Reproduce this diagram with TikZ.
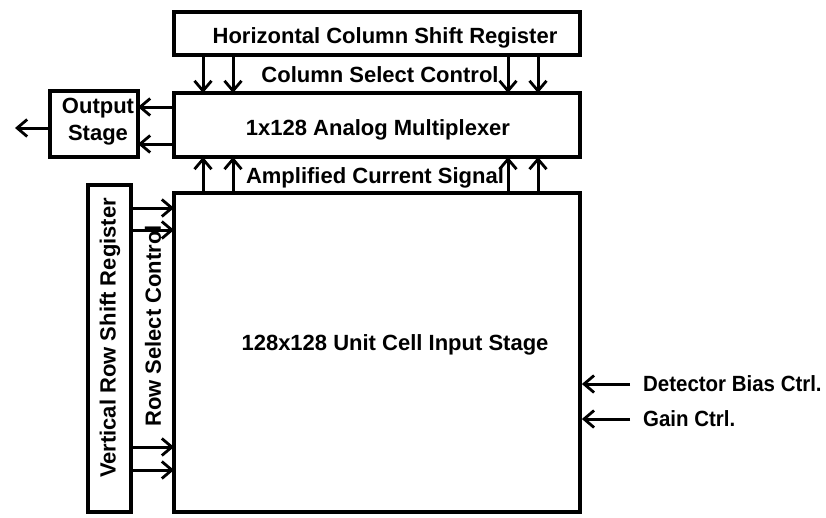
\documentclass[tikz,border=0pt]{standalone}
\usepackage{fontspec}
\setmainfont{Liberation Sans}
\usetikzlibrary{arrows.meta}
\begin{document}
\begin{tikzpicture}[x=1pt,y=-1pt,
  blk/.style={draw,line width=3.8pt,inner sep=0pt},
  arr/.style={line width=3pt,-{Straight Barb[length=10pt,width=17pt,line width=2.8pt]}},
  lbl/.style={font=\fontsize{22}{27}\selectfont\bfseries,inner sep=0pt}]
\useasboundingbox (0,0) rectangle (826,517);
\node[blk,minimum width=406pt,minimum height=43pt] (hcsr) at (377,33.5) {};
\node[blk,minimum width=406pt,minimum height=64pt] (mux) at (377,125) {};
\node[blk,minimum width=88pt,minimum height=66pt] (out) at (94,124) {};
\node[blk,minimum width=406pt,minimum height=319pt] (cell) at (377,352.5) {};
\node[blk,minimum width=43pt,minimum height=327pt] (vrsr) at (109.5,348.5) {};
% texts
\node[lbl] (t1) at (385,38) {Horizontal Column Shift Register};
\node[lbl] (t2) at (380,75) {Column Select Control};
\node[lbl] (t3) at (378,130) {1x128 Analog Multiplexer};
\node[lbl] (t4) at (375,178) {Amplified Current Signal};
\node[lbl] (t5) at (395,345) {128x128 Unit Cell Input Stage};
\node[lbl,align=center] (t6) at (98,122) {Output\\Stage};
\node[lbl,rotate=90] (t7) at (110,338) {Vertical Row Shift Register};
\node[lbl,rotate=90] (t8) at (153,326) {Row Select Control};
\node[lbl,anchor=west,xscale=0.93] (t9) at (643,384) {Detector Bias Ctrl.};
\node[lbl,anchor=west,xscale=0.93] (t10) at (643,419) {Gain Ctrl.};
% column arrows
\foreach \x in {203,233,508,538}{
  \draw[arr] (\x,55) -- (\x,93);
  \draw[arr] (\x,193) -- (\x,157);
}
% output arrows
\foreach \y in {107,144}{
  \draw[arr] (174,\y) -- (138,\y);
}
\coordinate (o) at (15,128);
\draw[arr] (out.west |- o) -- (o);
% row arrows
\foreach \y in {208,230,447,470}{
  \draw[arr] (131,\y) -- (174,\y);
}
% right arrows
\coordinate (d1) at (630,384);
\coordinate (d2) at (630,419);
\draw[arr] (d1) -- (cell.east |- d1);
\draw[arr] (d2) -- (cell.east |- d2);
\end{tikzpicture}
\end{document}
